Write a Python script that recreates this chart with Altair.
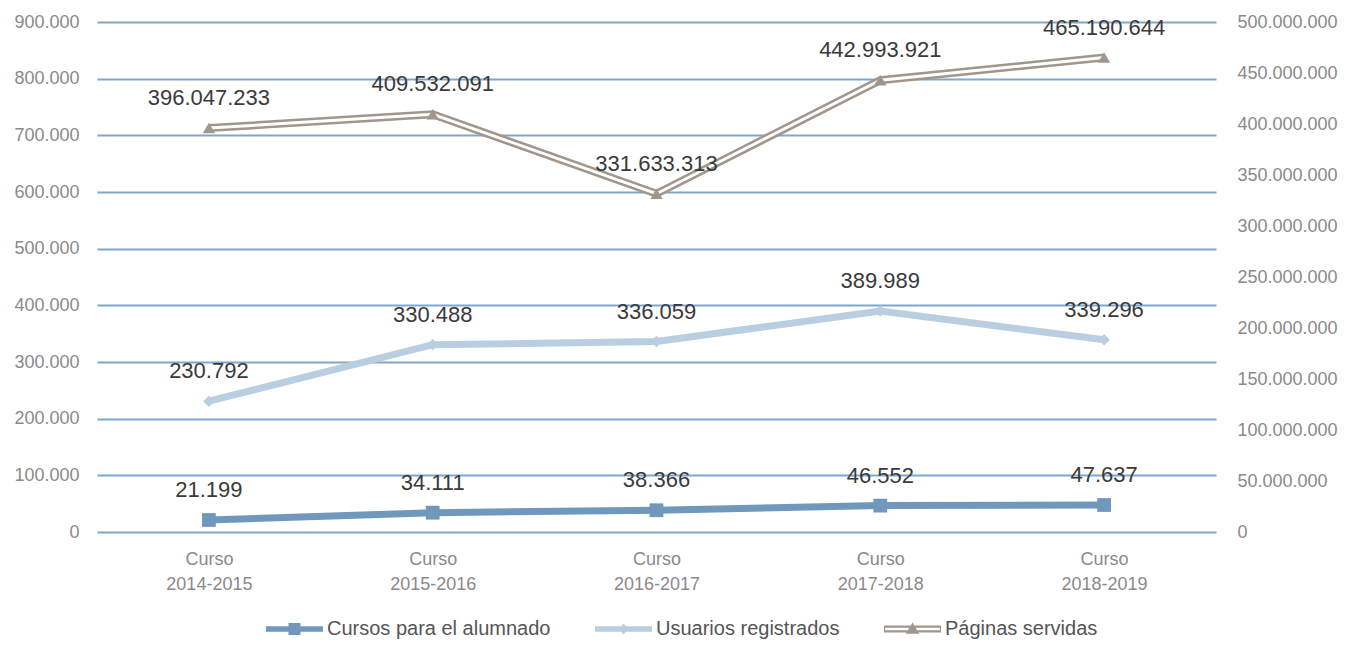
import altair as alt
import pandas as pd

# ---- data ----
courses = ["Curso 2014-2015", "Curso 2015-2016", "Curso 2016-2017",
           "Curso 2017-2018", "Curso 2018-2019"]
series_names = ["Cursos para el alumnado", "Usuarios registrados", "Páginas servidas"]
cursos = [21199, 34111, 38366, 46552, 47637]
usuarios = [230792, 330488, 336059, 389989, 339296]
paginas = [396047233, 409532091, 331633313, 442993921, 465190644]
left_ticks = [0, 100000, 200000, 300000, 400000, 500000, 600000, 700000, 800000, 900000]
right_ticks = [0, 50000000, 100000000, 150000000, 200000000, 250000000,
               300000000, 350000000, 400000000, 450000000, 500000000]
colors = ["#6f98bc", "#b9cfe1", "#a0968b"]

# legend symbols: line + marker (custom SVG paths)
legend_paths = [
    "M-1,-0.45L8.5,-0.45L8.5,0.45L-1,0.45Z M2.75,-1L4.75,-1L4.75,1L2.75,1Z",
    "M-1,-0.45L8.5,-0.45L8.5,0.45L-1,0.45Z M3.75,-0.9L4.55,0L3.75,0.9L2.95,0Z",
    "M-1,-0.6L8.5,-0.6L8.5,0.6L-1,0.6Z M-0.8,-0.22L-0.8,0.22L8.3,0.22L8.3,-0.22Z M3.75,-1.1L4.85,0.8L2.65,0.8Z",
]


def fmt(v):
    return f"{v:,}".replace(",", ".")


left_df = pd.DataFrame({
    "curso": courses * 2,
    "serie": [series_names[0]] * 5 + [series_names[1]] * 5,
    "valor": cursos + usuarios,
})
left_df["etiqueta"] = left_df["valor"].map(fmt)

right_df = pd.DataFrame({
    "curso": courses,
    "serie": [series_names[2]] * 5,
    "valor": paginas,
})
right_df["etiqueta"] = right_df["valor"].map(fmt)

FONT = "Liberation Sans"
AXIS_GRAY = "#8a8a8a"

x_enc = alt.X(
    "curso:N", sort=courses,
    scale=alt.Scale(type="point", padding=0.5),
    axis=alt.Axis(title=None, labelAngle=0, domain=False, ticks=False,
                  labelExpr="split(datum.label, ' ')", labelFont=FONT,
                  labelFontSize=18, labelColor=AXIS_GRAY, labelPadding=18,
                  labelLineHeight=25),
)

y_left = alt.Y(
    "valor:Q",
    scale=alt.Scale(domain=[0, 900000], nice=False, zero=True),
    axis=alt.Axis(title=None, orient="left", values=left_ticks, domain=False,
                  ticks=False, grid=True, gridColor="#7ea7cb", gridWidth=2,
                  labelExpr="join(split(format(datum.value, ','), ','), '.')",
                  labelFont=FONT, labelFontSize=18, labelColor=AXIS_GRAY,
                  labelPadding=18),
)

y_right = alt.Y(
    "valor:Q",
    scale=alt.Scale(domain=[0, 500000000], nice=False, zero=True),
    axis=alt.Axis(title=None, orient="right", values=right_ticks, domain=False,
                  ticks=False, grid=False,
                  labelExpr="join(split(format(datum.value, ','), ','), '.')",
                  labelFont=FONT, labelFontSize=18, labelColor=AXIS_GRAY,
                  labelPadding=21),
)


def only(name):
    return alt.datum.serie == name


line_c = alt.Chart().mark_line(strokeWidth=7, color=colors[0]).encode(
    x=x_enc, y=y_left).transform_filter(only(series_names[0]))
line_u = alt.Chart().mark_line(strokeWidth=7, color=colors[1]).encode(
    x=x_enc, y=y_left).transform_filter(only(series_names[1]))
pts_c = alt.Chart().mark_point(shape="square", filled=True, size=190,
                               color=colors[0], opacity=1).encode(
    x=x_enc, y=y_left).transform_filter(only(series_names[0]))
pts_u = alt.Chart().mark_point(shape="diamond", filled=True, size=130,
                               color=colors[1], opacity=1).encode(
    x=x_enc, y=y_left).transform_filter(only(series_names[1]))
txt_left = alt.Chart().mark_text(dy=-30, fontSize=22, font=FONT,
                                 color="#3a3a3a").encode(
    x=x_enc, y=y_left, text="etiqueta:N")

legend_def = alt.Legend(
    title=None, orient="none", legendX=165, legendY=597,
    direction="horizontal", symbolSize=144, labelFont=FONT,
    labelFontSize=20, labelColor="#555555", labelOffset=45,
    columnPadding=40, labelLimit=400, symbolStrokeWidth=0, symbolOpacity=1,
)
dummy = alt.Chart().mark_point(filled=True).encode(
    x=x_enc, y=y_left,
    color=alt.Color("serie:N", scale=alt.Scale(domain=series_names, range=colors),
                    legend=legend_def),
    shape=alt.Shape("serie:N", scale=alt.Scale(domain=series_names, range=legend_paths),
                    legend=legend_def),
).transform_filter("false")

left = alt.layer(line_c, line_u, pts_c, pts_u, txt_left, dummy, data=left_df)

line_p_outer = alt.Chart().mark_line(strokeWidth=8, color=colors[2]).encode(
    x=x_enc, y=y_right)
line_p_inner = alt.Chart().mark_line(strokeWidth=3, color="#ffffff").encode(
    x=x_enc, y=y_right)
pts_p = alt.Chart().mark_point(shape="triangle-up", filled=True, size=150,
                               color=colors[2], opacity=1).encode(
    x=x_enc, y=y_right)
txt_right = alt.Chart().mark_text(dy=-30, fontSize=22, font=FONT,
                                  color="#3a3a3a").encode(
    x=x_enc, y=y_right, text="etiqueta:N")

right = alt.layer(line_p_outer, line_p_inner, pts_p, txt_right, data=right_df)

chart = alt.layer(left, right).resolve_scale(y="independent").properties(
    width=1119, height=510,
    padding={"left": 89, "top": 14, "right": 128, "bottom": 108},
    autosize=alt.AutoSizeParams(type="none"),
    background="#ffffff",
).configure_view(stroke=None)

chart.save("out.html", embed_options={"renderer": "svg", "actions": False})
